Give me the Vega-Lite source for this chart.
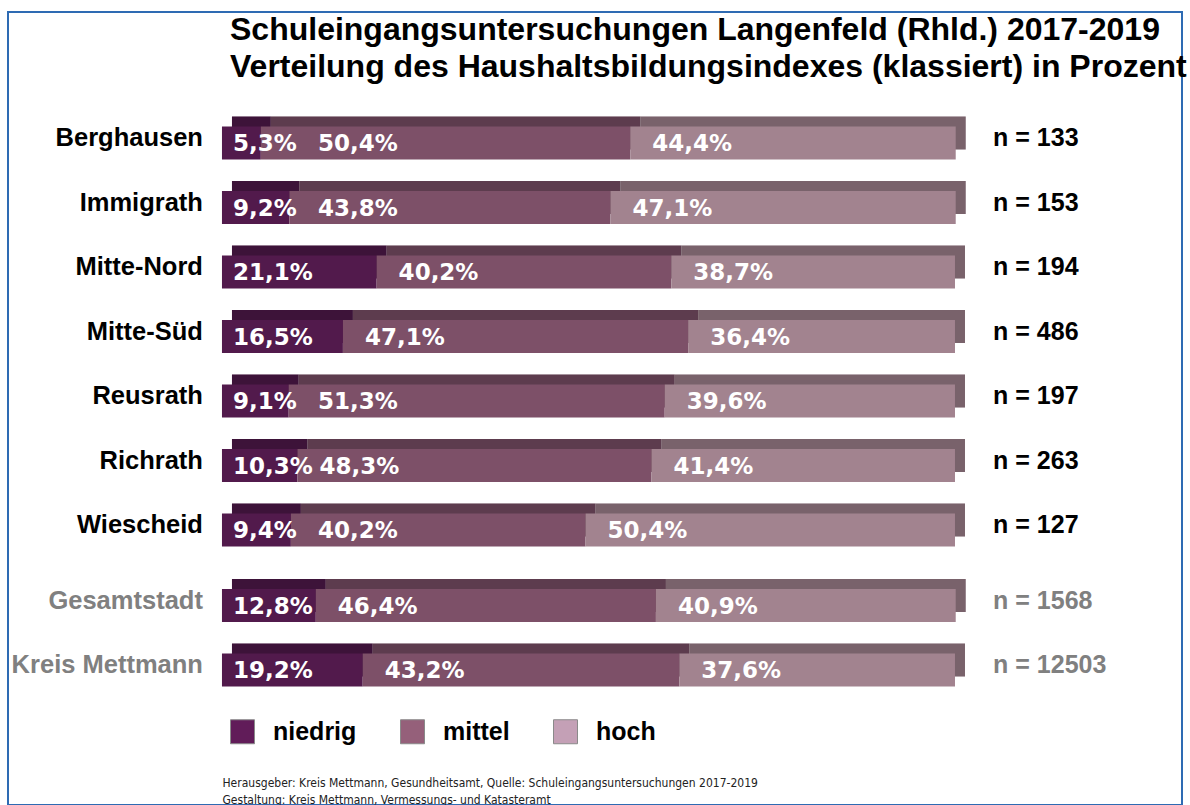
{
  "$schema": "https://vega.github.io/schema/vega-lite/v6.json",
  "width": 1174,
  "height": 793,
  "autosize": "none",
  "padding": {"left": 8, "top": 12, "right": 8, "bottom": 0},
  "background": "white",
  "config": {
    "view": {"stroke": "#2e6bb3", "strokeWidth": 2},
    "axis": {"grid": false},
    "axisX": {
      "labels": false, "ticks": false, "domain": false, "grid": false,
      "titleX": 214, "titleY": -19, "titleAlign": "left", "titleAnchor": "start", "titleBaseline": "alphabetic",
      "titleFont": "Liberation Sans Narrow, DejaVu Sans Condensed, Liberation Sans, sans-serif", "titleFontSize": 12, "titleFontWeight": "normal",
      "titleColor": "#222222", "titleLineHeight": 17
    }
  },
  "title": {
    "text": ["Schuleingangsuntersuchungen Langenfeld (Rhld.) 2017-2019", "Verteilung des Haushaltsbildungsindexes (klassiert) in Prozent"],
    "anchor": "start",
    "frame": "group",
    "orient": "top",
    "offset": 0,
    "dx": 222,
    "dy": 72,
    "baseline": "top",
    "font": "Liberation Sans",
    "fontSize": 32,
    "fontWeight": "bold",
    "color": "#000000",
    "lineHeight": 37
  },
  "datasets": {
    "shares": [
      {"region": "Berghausen", "level": "niedrig", "value": 5.3},
      {"region": "Berghausen", "level": "mittel", "value": 50.4},
      {"region": "Berghausen", "level": "hoch", "value": 44.4},
      {"region": "Immigrath", "level": "niedrig", "value": 9.2},
      {"region": "Immigrath", "level": "mittel", "value": 43.8},
      {"region": "Immigrath", "level": "hoch", "value": 47.1},
      {"region": "Mitte-Nord", "level": "niedrig", "value": 21.1},
      {"region": "Mitte-Nord", "level": "mittel", "value": 40.2},
      {"region": "Mitte-Nord", "level": "hoch", "value": 38.7},
      {"region": "Mitte-Süd", "level": "niedrig", "value": 16.5},
      {"region": "Mitte-Süd", "level": "mittel", "value": 47.1},
      {"region": "Mitte-Süd", "level": "hoch", "value": 36.4},
      {"region": "Reusrath", "level": "niedrig", "value": 9.1},
      {"region": "Reusrath", "level": "mittel", "value": 51.3},
      {"region": "Reusrath", "level": "hoch", "value": 39.6},
      {"region": "Richrath", "level": "niedrig", "value": 10.3},
      {"region": "Richrath", "level": "mittel", "value": 48.3},
      {"region": "Richrath", "level": "hoch", "value": 41.4},
      {"region": "Wiescheid", "level": "niedrig", "value": 9.4},
      {"region": "Wiescheid", "level": "mittel", "value": 40.2},
      {"region": "Wiescheid", "level": "hoch", "value": 50.4},
      {"region": "Gesamtstadt", "level": "niedrig", "value": 12.8},
      {"region": "Gesamtstadt", "level": "mittel", "value": 46.4},
      {"region": "Gesamtstadt", "level": "hoch", "value": 40.9},
      {"region": "Kreis Mettmann", "level": "niedrig", "value": 19.2},
      {"region": "Kreis Mettmann", "level": "mittel", "value": 43.2},
      {"region": "Kreis Mettmann", "level": "hoch", "value": 37.6}
    ],
    "counts": [
      {"region": "Berghausen", "n": 133},
      {"region": "Immigrath", "n": 153},
      {"region": "Mitte-Nord", "n": 194},
      {"region": "Mitte-Süd", "n": 486},
      {"region": "Reusrath", "n": 197},
      {"region": "Richrath", "n": 263},
      {"region": "Wiescheid", "n": 127},
      {"region": "Gesamtstadt", "n": 1568},
      {"region": "Kreis Mettmann", "n": 12503}
    ]
  },
  "resolve": {"scale": {"color": "independent"}},
  "layer": [
    {
      "data": {"name": "shares"},
      "transform": [
        {"stack": "value", "groupby": ["region"], "sort": [{"field": "level", "order": "descending"}], "as": ["x0", "x1"]},
        {"calculate": "replace(format(datum.value, '.1f'), '.', ',') + '%'", "as": "label"},
        {"calculate": "datum.level == 'niedrig' ? datum.x0 + 1.5 : (datum.level == 'mittel' ? max(datum.x0 + 3, 13.1) : datum.x0 + 3)", "as": "lx"}
      ],
      "layer": [
        {
          "mark": {"type": "bar", "height": 33, "xOffset": 10, "x2Offset": 10, "yOffset": {"expr": "indexof(['Gesamtstadt','Kreis Mettmann'], datum.region) >= 0 ? 1 : -10"}},
          "encoding": {
            "x": {"field": "x0", "type": "quantitative", "scale": {"domain": [-29.19, 130.97], "nice": false, "zero": false},
              "axis": {"title": ["Herausgeber: Kreis Mettmann, Gesundheitsamt, Quelle: Schuleingangsuntersuchungen 2017-2019", "Gestaltung: Kreis Mettmann, Vermessungs- und Katasteramt"]}},
            "x2": {"field": "x1"},
            "y": {"field": "region", "type": "nominal", "sort": null,
              "scale": {"domain": ["Berghausen", "Immigrath", "Mitte-Nord", "Mitte-Süd", "Reusrath", "Richrath", "Wiescheid", "Gesamtstadt", "Kreis Mettmann"], "range": [98.75, 679.25], "paddingInner": 0, "paddingOuter": 0},
              "axis": null},
            "fill": {"field": "level", "type": "nominal", "legend": null,
              "scale": {"domain": ["niedrig", "mittel", "hoch"], "range": ["#521a4c", "#7d5068", "#a2838f"]}}
          }
        },
        {
          "mark": {"type": "bar", "height": 33, "xOffset": 10, "x2Offset": 10, "color": "#000000", "opacity": 0.25, "yOffset": {"expr": "indexof(['Gesamtstadt','Kreis Mettmann'], datum.region) >= 0 ? 1 : -10"}},
          "encoding": {
            "x": {"field": "x0", "type": "quantitative", "scale": {"domain": [-29.19, 130.97], "nice": false, "zero": false},
              "axis": {"title": ["Herausgeber: Kreis Mettmann, Gesundheitsamt, Quelle: Schuleingangsuntersuchungen 2017-2019", "Gestaltung: Kreis Mettmann, Vermessungs- und Katasteramt"]}},
            "x2": {"field": "x1"},
            "y": {"field": "region", "type": "nominal", "sort": null, "axis": null,
              "scale": {"domain": ["Berghausen", "Immigrath", "Mitte-Nord", "Mitte-Süd", "Reusrath", "Richrath", "Wiescheid", "Gesamtstadt", "Kreis Mettmann"], "range": [98.75, 679.25], "paddingInner": 0, "paddingOuter": 0}}
          }
        },
        {
          "mark": {"type": "bar", "height": 33, "yOffset": {"expr": "indexof(['Gesamtstadt','Kreis Mettmann'], datum.region) >= 0 ? 11 : 0"}},
          "encoding": {
            "x": {"field": "x0", "type": "quantitative", "scale": {"domain": [-29.19, 130.97], "nice": false, "zero": false},
              "axis": {"title": ["Herausgeber: Kreis Mettmann, Gesundheitsamt, Quelle: Schuleingangsuntersuchungen 2017-2019", "Gestaltung: Kreis Mettmann, Vermessungs- und Katasteramt"]}},
            "x2": {"field": "x1"},
            "y": {"field": "region", "type": "nominal", "sort": null, "axis": null,
              "scale": {"domain": ["Berghausen", "Immigrath", "Mitte-Nord", "Mitte-Süd", "Reusrath", "Richrath", "Wiescheid", "Gesamtstadt", "Kreis Mettmann"], "range": [98.75, 679.25], "paddingInner": 0, "paddingOuter": 0}},
            "fill": {"field": "level", "type": "nominal", "legend": null,
              "scale": {"domain": ["niedrig", "mittel", "hoch"], "range": ["#521a4c", "#7d5068", "#a2838f"]}}
          }
        },
        {
          "mark": {"type": "text", "align": "left", "baseline": "middle", "dy": 1, "font": "DejaVu Sans", "fontSize": 23, "fontWeight": "bold", "color": "#ffffff",
            "yOffset": {"expr": "indexof(['Gesamtstadt','Kreis Mettmann'], datum.region) >= 0 ? 11 : 0"}},
          "encoding": {
            "x": {"field": "lx", "type": "quantitative", "scale": {"domain": [-29.19, 130.97], "nice": false, "zero": false},
              "axis": {"title": ["Herausgeber: Kreis Mettmann, Gesundheitsamt, Quelle: Schuleingangsuntersuchungen 2017-2019", "Gestaltung: Kreis Mettmann, Vermessungs- und Katasteramt"]}},
            "y": {"field": "region", "type": "nominal", "sort": null, "axis": null,
              "scale": {"domain": ["Berghausen", "Immigrath", "Mitte-Nord", "Mitte-Süd", "Reusrath", "Richrath", "Wiescheid", "Gesamtstadt", "Kreis Mettmann"], "range": [98.75, 679.25], "paddingInner": 0, "paddingOuter": 0}},
            "text": {"field": "label"}
          }
        },
        {
          "mark": {"type": "text", "text": ""},
          "encoding": {
            "x": {"field": "x0", "type": "quantitative", "scale": {"domain": [-29.19, 130.97], "nice": false, "zero": false},
              "axis": {"title": ["Herausgeber: Kreis Mettmann, Gesundheitsamt, Quelle: Schuleingangsuntersuchungen 2017-2019", "Gestaltung: Kreis Mettmann, Vermessungs- und Katasteramt"]}},
            "y": {"field": "region", "type": "nominal", "sort": null, "axis": null,
              "scale": {"domain": ["Berghausen", "Immigrath", "Mitte-Nord", "Mitte-Süd", "Reusrath", "Richrath", "Wiescheid", "Gesamtstadt", "Kreis Mettmann"], "range": [98.75, 679.25], "paddingInner": 0, "paddingOuter": 0}},
            "color": {"field": "level", "type": "nominal",
              "scale": {"domain": ["niedrig", "mittel", "hoch"], "range": ["#611c59", "#95607a", "#c4a0b6"]},
              "legend": {"title": null, "orient": "none", "legendX": 222, "legendY": 707, "direction": "horizontal",
                "symbolType": "square", "symbolSize": 576, "symbolStrokeColor": "#8a8a8a", "symbolStrokeWidth": 1, "symbolOpacity": 1,
                "labelFont": "Liberation Sans", "labelFontSize": 25, "labelFontWeight": "bold", "labelColor": "#000000",
                "labelOffset": 18, "columnPadding": 41, "padding": 0}}
          }
        }
      ]
    },
    {
      "data": {"name": "counts"},
      "layer": [
        {
          "mark": {"type": "text", "align": "left", "baseline": "middle", "dy": -5, "font": "Liberation Sans", "fontSize": 25, "fontWeight": "bold",
            "yOffset": {"expr": "indexof(['Gesamtstadt','Kreis Mettmann'], datum.region) >= 0 ? 11 : 0"}},
          "encoding": {
            "x": {"datum": 105.2, "type": "quantitative", "scale": {"domain": [-29.19, 130.97], "nice": false, "zero": false},
              "axis": {"title": ["Herausgeber: Kreis Mettmann, Gesundheitsamt, Quelle: Schuleingangsuntersuchungen 2017-2019", "Gestaltung: Kreis Mettmann, Vermessungs- und Katasteramt"]}},
            "y": {"field": "region", "type": "nominal", "sort": null, "axis": null,
              "scale": {"domain": ["Berghausen", "Immigrath", "Mitte-Nord", "Mitte-Süd", "Reusrath", "Richrath", "Wiescheid", "Gesamtstadt", "Kreis Mettmann"], "range": [98.75, 679.25], "paddingInner": 0, "paddingOuter": 0}},
            "text": {"value": {"expr": "'n = ' + datum.n"}},
            "color": {"condition": {"test": "indexof(['Gesamtstadt','Kreis Mettmann'], datum.region) >= 0", "value": "#808080"}, "value": "#000000"}
          }
        },
        {
          "mark": {"type": "text", "align": "right", "baseline": "middle", "dy": -5, "font": "Liberation Sans", "fontSize": 25.5, "fontWeight": "bold",
            "yOffset": {"expr": "indexof(['Gesamtstadt','Kreis Mettmann'], datum.region) >= 0 ? 11 : 0"}},
          "encoding": {
            "x": {"datum": -2.6, "type": "quantitative", "scale": {"domain": [-29.19, 130.97], "nice": false, "zero": false},
              "axis": {"title": ["Herausgeber: Kreis Mettmann, Gesundheitsamt, Quelle: Schuleingangsuntersuchungen 2017-2019", "Gestaltung: Kreis Mettmann, Vermessungs- und Katasteramt"]}},
            "y": {"field": "region", "type": "nominal", "sort": null, "axis": null,
              "scale": {"domain": ["Berghausen", "Immigrath", "Mitte-Nord", "Mitte-Süd", "Reusrath", "Richrath", "Wiescheid", "Gesamtstadt", "Kreis Mettmann"], "range": [98.75, 679.25], "paddingInner": 0, "paddingOuter": 0}},
            "text": {"field": "region"},
            "color": {"condition": {"test": "indexof(['Gesamtstadt','Kreis Mettmann'], datum.region) >= 0", "value": "#808080"}, "value": "#000000"}
          }
        }
      ]
    }
  ]
}
